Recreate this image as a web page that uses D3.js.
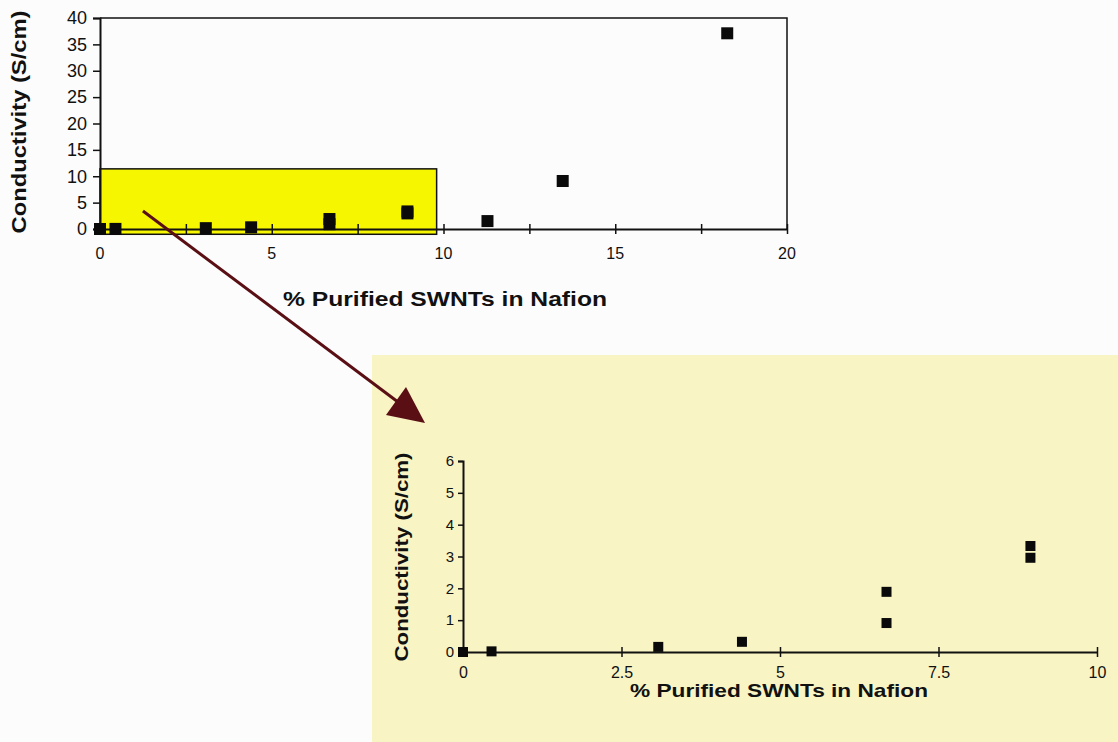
<!DOCTYPE html>
<html>
<head>
<meta charset="utf-8">
<script src="https://cdn.jsdelivr.net/npm/d3@7"></script>
<style>
  body { margin: 0; background: #fcfcfc; }
  text { font-family: Arial, "Liberation Sans", sans-serif; fill: #111; }
</style>
</head>
<body>
<div id="chart"></div>
<script>
// data: % SWNTs vs conductivity (S/cm)
const pctSWNT = [0, 0.45, 3.08, 4.4, 6.68, 6.68, 8.95, 8.95, 11.28, 13.47, 18.26];
const conductivity = [0, 0.02, 0.16, 0.32, 0.91, 1.89, 2.96, 3.33, 1.5, 9.1, 37.1];

// the highlighted region in the full chart (data units)
const zoomX = [0, 9.8];
const zoomY = [-1, 11.4];

const topXTicks = d3.range(0, 20.01, 2.5);
const topXLabels = [0, 5, 10, 15, 20];
const topYTicks = [0, 5, 10, 15, 20, 25, 30, 35, 40];
const botXTicks = [0, 2.5, 5, 7.5, 10];
const botYTicks = [0, 1, 2, 3, 4, 5, 6];

const xTitle = "% Purified SWNTs in Nafion";
const yTitle = "Conductivity (S/cm)";

const width = 1118, height = 742;
const svg = d3.select("#chart").append("svg")
    .attr("width", width)
    .attr("height", height);

// pale yellow panel behind the zoomed chart
svg.append("rect")
    .attr("x", 372).attr("y", 355)
    .attr("width", width - 372).attr("height", height - 355)
    .attr("fill", "#f9f4c3");

// ---------- top chart ----------
const x1 = d3.scaleLinear().domain([0, 20]).range([100, 787]);
const y1 = d3.scaleLinear().domain([0, 40]).range([229, 18]);

// frame
svg.append("path")
    .attr("d", `M${x1(0)},${y1(40)}H${x1(20)}V${y1(0)}`)
    .attr("fill", "none").attr("stroke", "#111").attr("stroke-width", 1.5);

// highlighted box
svg.append("rect")
    .attr("x", x1(zoomX[0]))
    .attr("y", y1(zoomY[1]))
    .attr("width", x1(zoomX[1]) - x1(zoomX[0]))
    .attr("height", y1(zoomY[0]) - y1(zoomY[1]))
    .attr("fill", "#f6f600")
    .attr("stroke", "#111").attr("stroke-width", 1.5);

const xAxis1 = svg.append("g")
    .attr("transform", `translate(0,${y1(0)})`)
    .call(d3.axisBottom(x1).tickValues(topXTicks).tickSize(0).tickFormat(""));
xAxis1.select(".domain").attr("stroke", "#111").attr("stroke-width", 2);
xAxis1.selectAll(".tick").append("line")
    .attr("y1", -5).attr("y2", 5)
    .attr("stroke", "#111").attr("stroke-width", 1.5);

svg.append("g").selectAll("text")
    .data(topXLabels)
    .enter()
    .append("text")
    .attr("x", d => x1(d))
    .attr("y", 259)
    .attr("text-anchor", "middle")
    .style("font-size", "16px")
    .text(d => d);

const yAxis1 = svg.append("g")
    .attr("transform", `translate(${x1(0)},0)`)
    .call(d3.axisLeft(y1).tickValues(topYTicks).tickSize(7).tickPadding(6));
yAxis1.select(".domain").attr("stroke", "#111").attr("stroke-width", 2);
yAxis1.selectAll(".tick line").attr("stroke", "#111").attr("stroke-width", 1.5);
yAxis1.selectAll(".tick text")
    .style("font-size", "18px")
    .style("font-family", "Arial, 'Liberation Sans', sans-serif")
    .attr("fill", "#111");

svg.append("g").selectAll("rect")
    .data(pctSWNT.map((d, i) => [d, conductivity[i]]))
    .enter()
    .append("rect")
    .attr("x", d => x1(d[0]) - 6)
    .attr("y", d => y1(d[1]) - 6)
    .attr("width", 12)
    .attr("height", 12)
    .attr("fill", "#0a0a0a");

svg.append("text")
    .attr("transform", "translate(26,122) rotate(-90)")
    .attr("text-anchor", "middle")
    .attr("textLength", 223)
    .attr("lengthAdjust", "spacingAndGlyphs")
    .style("font-size", "20px")
    .style("font-weight", "bold")
    .text(yTitle);

svg.append("text")
    .attr("x", 445)
    .attr("y", 306)
    .attr("text-anchor", "middle")
    .attr("textLength", 324)
    .attr("lengthAdjust", "spacingAndGlyphs")
    .style("font-size", "21px")
    .style("font-weight", "bold")
    .text(xTitle);

// ---------- zoomed chart ----------
const x2 = d3.scaleLinear().domain([0, 10]).range([463, 1097]);
const y2 = d3.scaleLinear().domain([0, 6]).range([652, 461]);

const xAxis2 = svg.append("g")
    .attr("transform", `translate(0,${y2(0)})`)
    .call(d3.axisBottom(x2).tickValues(botXTicks).tickSize(0).tickPadding(15)
        .tickFormat(d => d));
xAxis2.select(".domain").attr("stroke", "#111").attr("stroke-width", 2);
xAxis2.selectAll(".tick").append("line")
    .attr("y1", -5).attr("y2", 5)
    .attr("stroke", "#111").attr("stroke-width", 1.5);
xAxis2.selectAll(".tick text")
    .style("font-size", "16px")
    .style("font-family", "Arial, 'Liberation Sans', sans-serif")
    .attr("fill", "#111");

const yAxis2 = svg.append("g")
    .attr("transform", `translate(${x2(0)},0)`)
    .call(d3.axisLeft(y2).tickValues(botYTicks).tickSize(5).tickPadding(4)
        .tickFormat(d3.format("d")));
yAxis2.select(".domain").attr("stroke", "#111").attr("stroke-width", 2);
yAxis2.selectAll(".tick line").attr("stroke", "#111").attr("stroke-width", 1.5);
yAxis2.selectAll(".tick text")
    .style("font-size", "15px")
    .style("font-family", "Arial, 'Liberation Sans', sans-serif")
    .attr("fill", "#111");

svg.append("g").selectAll("rect")
    .data(pctSWNT.map((d, i) => [d, conductivity[i]]).filter(d => d[0] <= 10))
    .enter()
    .append("rect")
    .attr("x", d => x2(d[0]) - 5)
    .attr("y", d => y2(d[1]) - 5)
    .attr("width", 10)
    .attr("height", 10)
    .attr("fill", "#0a0a0a");

svg.append("text")
    .attr("transform", "translate(408,557) rotate(-90)")
    .attr("text-anchor", "middle")
    .attr("textLength", 209)
    .attr("lengthAdjust", "spacingAndGlyphs")
    .style("font-size", "19px")
    .style("font-weight", "bold")
    .text(yTitle);

svg.append("text")
    .attr("x", 779)
    .attr("y", 697)
    .attr("text-anchor", "middle")
    .attr("textLength", 298)
    .attr("lengthAdjust", "spacingAndGlyphs")
    .style("font-size", "19px")
    .style("font-weight", "bold")
    .text(xTitle);

// ---------- arrow linking the highlighted box to the zoom ----------
svg.append("line")
    .attr("x1", x1(1.25)).attr("y1", y1(3.4))
    .attr("x2", 398).attr("y2", 402)
    .attr("stroke", "#5a0f14")
    .attr("stroke-width", 3);

svg.append("path")
    .attr("d", "M406,387L386,415L425,423Z")
    .attr("fill", "#5a0f14");
</script>
</body>
</html>
